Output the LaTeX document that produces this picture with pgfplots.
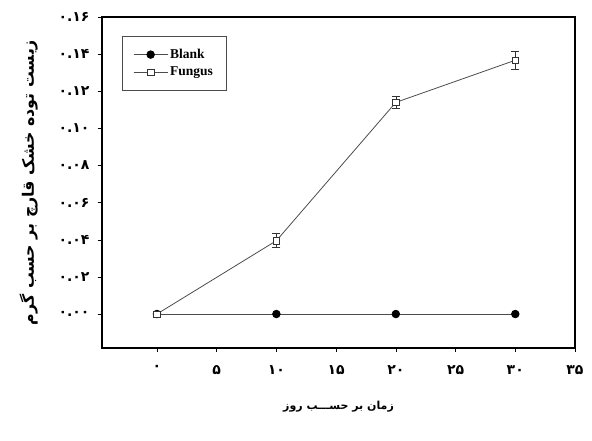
\documentclass[border=0pt]{standalone}
\usepackage{fontspec}
\usepackage{pgfplots}
\pgfplotsset{compat=1.18}
\setmainfont{Liberation Serif}
\newfontfamily\arabicfont[Script=Arabic]{DejaVu Sans}
\TeXXeTstate=1
\begin{document}
\begin{tikzpicture}
\path[use as bounding box] (-102pt,-93pt) rectangle (490pt,348pt);
\begin{axis}[
  scale only axis,
  width=473pt, height=331pt,
  xmin=-4.6, xmax=35,
  ymin=-0.0183, ymax=0.16,
  axis line style={line width=1.6pt},
  tick style={black, line width=0.5pt},
  tick align=outside,
  major tick length=4pt,
  xtick={0,5,10,15,20,25,30,35},
  xticklabels={{\arabicfont\bfseries ۰},{\arabicfont\bfseries ۵},{\arabicfont\bfseries ۱۰},{\arabicfont\bfseries ۱۵},{\arabicfont\bfseries ۲۰},{\arabicfont\bfseries ۲۵},{\arabicfont\bfseries ۳۰},{\arabicfont\bfseries ۳۵}},
  ytick={0,0.02,0.04,0.06,0.08,0.10,0.12,0.14,0.16},
  yticklabels={{\arabicfont\bfseries ۰.۰۰},{\arabicfont\bfseries ۰.۰۲},{\arabicfont\bfseries ۰.۰۴},{\arabicfont\bfseries ۰.۰۶},{\arabicfont\bfseries ۰.۰۸},{\arabicfont\bfseries ۰.۱۰},{\arabicfont\bfseries ۰.۱۲},{\arabicfont\bfseries ۰.۱۴},{\arabicfont\bfseries ۰.۱۶}},
  xticklabel style={font=\fontsize{14}{16}\selectfont, yshift=-10pt},
  yticklabel style={font=\fontsize{14}{16}\selectfont, xshift=-5pt},
  xtick pos=bottom, ytick pos=left,
  xlabel={\arabicfont\bfseries\beginR زمان بر حســـب روز\endR},
  xlabel style={font=\fontsize{11}{13}\selectfont, yshift=-20pt},
  ylabel={\arabicfont\bfseries\beginR زیست توده خشک قارچ بر حسب گرم\endR},
  ylabel style={font=\fontsize{15.8}{17}\selectfont, yshift=14pt},
  legend style={at={(0.042,0.943)}, anchor=north west, draw=black!70, line width=0.6pt,
    inner xsep=11pt, inner ysep=11pt, row sep=3pt,
    nodes={font=\bfseries\fontsize{13.5}{15}\selectfont}},
  legend cell align=left,
  legend image code/.code={\draw[mark repeat=2, mark phase=2, #1] plot coordinates {(0cm,0cm) (0.6cm,0cm) (1.2cm,0cm)};},
  legend image post style={line width=0.8pt},
]
\addplot[black!70, line width=0.8pt, mark=*, mark size=3.8pt, mark options={draw=black, fill=black}]
  coordinates {(0,0) (10,0) (20,0) (30,0)};
\addlegendentry{Blank}
\addplot[black!70, line width=0.8pt, mark=square*, mark size=3.2pt,
  mark options={draw=black!80, fill=white, line width=0.6pt},
  error bars/.cd, y dir=both, y explicit,
  error bar style={black!80, line width=0.6pt},
  error mark options={rotate=90, mark size=4pt, line width=0.6pt, black!80}]
  coordinates {(0,0) +- (0,0) (10,0.0395) +- (0,0.0038) (20,0.114) +- (0,0.0033) (30,0.1367) +- (0,0.0048)};
\addlegendentry{Fungus}
\end{axis}
\end{tikzpicture}
\end{document}
